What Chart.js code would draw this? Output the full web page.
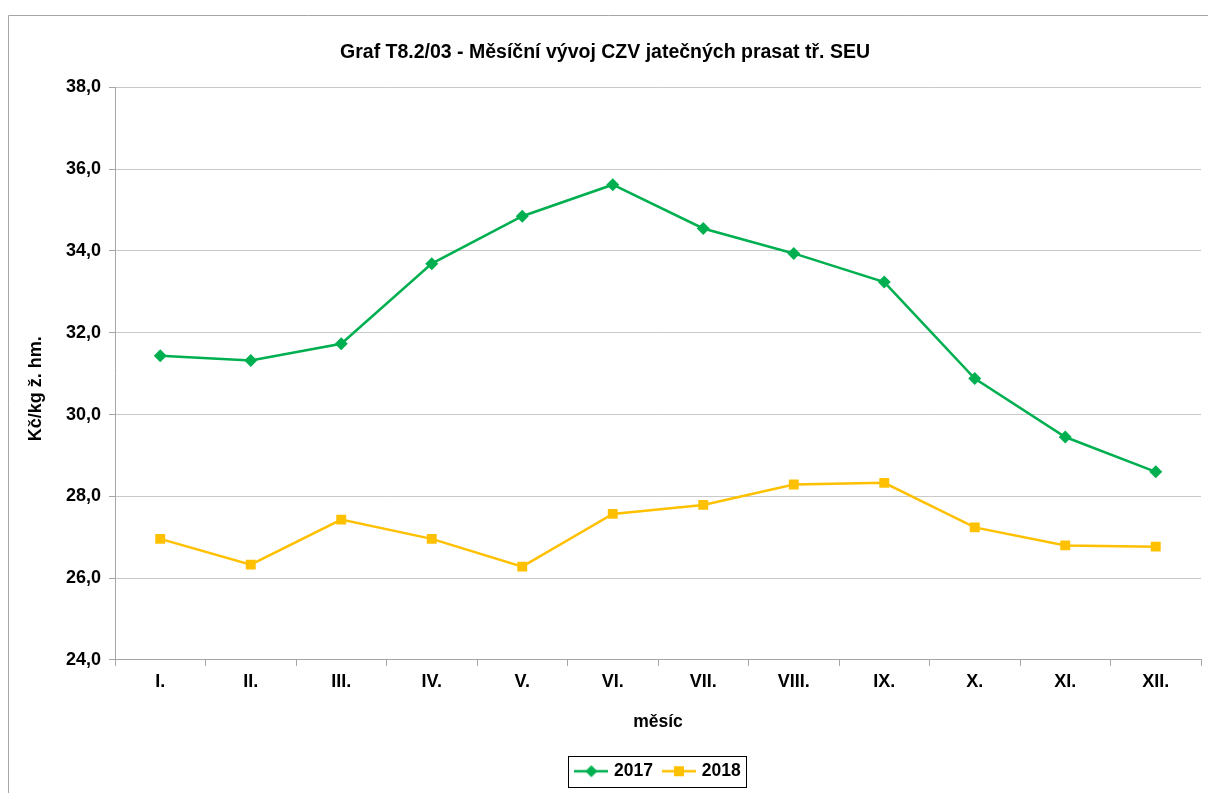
<!DOCTYPE html>
<html>
<head>
<meta charset="utf-8">
<title>Graf T8.2/03</title>
<script src="https://cdn.jsdelivr.net/npm/chart.js@4.4.1/dist/chart.umd.min.js"></script>
<style>
  html, body { margin: 0; padding: 0; background: #fff; }
  #wrap { width: 1208px; height: 793px; }
</style>
</head>
<body>
<div id="wrap"><canvas id="priceChart" width="1208" height="793"></canvas></div>
<script>
// months (category axis)
const months = ["I.", "II.", "III.", "IV.", "V.", "VI.", "VII.", "VIII.", "IX.", "X.", "XI.", "XII."];

// Kč/kg živé hmotnosti
const prices2017 = [31.44, 31.32, 31.73, 33.69, 34.85, 35.62, 34.55, 33.94, 33.24, 30.88, 29.45, 28.60];
const prices2018 = [26.96, 26.33, 27.43, 26.96, 26.28, 27.57, 27.79, 28.29, 28.33, 27.24, 26.80, 26.77];

const yTicks = [24, 26, 28, 30, 32, 34, 36, 38];

const GREEN = "#00B050";
const GOLD = "#FFC000";
const FONT = "'Liberation Sans', Arial, sans-serif";

Chart.defaults.font.family = FONT;
Chart.defaults.color = "#000";

// small line+marker icon for legend, like the Excel legend key
function legendIcon(color, shape) {
    const c = document.createElement('canvas');
    c.width = 34;
    c.height = 14;
    const g = c.getContext('2d');
    g.strokeStyle = color;
    g.lineWidth = 2.5;
    g.beginPath();
    g.moveTo(0, 7);
    g.lineTo(34, 7);
    g.stroke();
    g.fillStyle = color;
    if (shape === 'diamond') {
        g.beginPath();
        g.moveTo(17, 1);
        g.lineTo(23, 7);
        g.lineTo(17, 13);
        g.lineTo(11, 7);
        g.closePath();
        g.fill();
    } else {
        g.fillRect(12, 2, 10, 10);
    }
    return c;
}

// outer frame, legend centred under the plot, box round the legend
const framePlugin = {
    id: 'frame',
    afterLayout(chart) {
        const lg = chart.legend;
        if (!lg) return;
        const d = (chart.chartArea.left + chart.chartArea.right) / 2 + 1 - (lg.left + lg.right) / 2;
        lg.left += d;
        lg.right += d;
    },
    beforeDraw(chart) {
        const ctx = chart.ctx;
        ctx.save();
        ctx.strokeStyle = "#a6a6a6";
        ctx.lineWidth = 1;
        ctx.beginPath();
        ctx.moveTo(8.5, 800);
        ctx.lineTo(8.5, 15.5);
        ctx.lineTo(1210, 15.5);
        ctx.stroke();
        ctx.restore();
    },
    afterDraw(chart) {
        const boxes = chart.legend && chart.legend.legendHitBoxes;
        if (!boxes || !boxes.length) return;
        let l = Infinity, r = -Infinity, t = Infinity, b = -Infinity;
        boxes.forEach(h => {
            l = Math.min(l, h.left);
            r = Math.max(r, h.left + h.width);
            t = Math.min(t, h.top);
            b = Math.max(b, h.top + h.height);
        });
        const ctx = chart.ctx;
        ctx.save();
        ctx.strokeStyle = "#000";
        ctx.lineWidth = 1;
        ctx.strokeRect(Math.round(l - 9) + 0.5, Math.round(t - 7) + 0.5, Math.round(r - l + 15), Math.round(b - t + 13));
        ctx.restore();
    }
};

new Chart(document.getElementById('priceChart'), {
    type: 'line',
    data: {
        labels: months,
        datasets: [
            {
                label: '2017',
                data: prices2017,
                borderColor: GREEN,
                backgroundColor: GREEN,
                borderWidth: 2.5,
                pointStyle: 'rectRot',
                pointRadius: 6.5,
                pointHoverRadius: 6.5,
                pointBorderWidth: 0,
                tension: 0
            },
            {
                label: '2018',
                data: prices2018,
                borderColor: GOLD,
                backgroundColor: GOLD,
                borderWidth: 2.5,
                pointStyle: 'rect',
                pointRadius: 7,
                pointHoverRadius: 7,
                pointBorderWidth: 0,
                tension: 0
            }
        ]
    },
    options: {
        responsive: false,
        animation: false,
        layout: { padding: { left: 8, right: 6, top: 0, bottom: 3 } },
        plugins: {
            title: {
                display: true,
                text: 'Graf T8.2/03 - Měsíční vývoj CZV jatečných prasat tř. SEU',
                font: { size: 19.5, weight: 'bold' },
                color: '#000',
                padding: { top: 41, bottom: 23 }
            },
            legend: {
                position: 'bottom',
                labels: {
                    font: { size: 17.5, weight: 'bold' },
                    color: '#000',
                    usePointStyle: true,
                    pointStyleWidth: 28,
                    padding: 12,
                    generateLabels(chart) {
                        return chart.data.datasets.map((ds, i) => ({
                            text: ds.label,
                            datasetIndex: i,
                            fillStyle: ds.borderColor,
                            strokeStyle: ds.borderColor,
                            lineWidth: 0,
                            hidden: false,
                            pointStyle: legendIcon(ds.borderColor, i === 0 ? 'diamond' : 'square')
                        }));
                    }
                }
            },
            tooltip: { enabled: false }
        },
        scales: {
            x: {
                offset: true,
                grid: {
                    offset: true,
                    drawOnChartArea: false,
                    drawTicks: true,
                    tickLength: 6,
                    color: '#a6a6a6'
                },
                border: { color: '#a6a6a6', width: 1 },
                ticks: {
                    font: { size: 18, weight: 'bold' },
                    color: '#000',
                    padding: 5,
                    maxRotation: 0
                },
                title: {
                    display: true,
                    text: 'měsíc',
                    font: { size: 17.5, weight: 'bold' },
                    color: '#000',
                    padding: { top: 14, bottom: 18 }
                }
            },
            y: {
                min: 24,
                max: 38,
                afterBuildTicks(scale) {
                    scale.ticks = yTicks.map(v => ({ value: v }));
                },
                afterFit(scale) {
                    scale.width = 107;
                },
                grid: {
                    color: '#c8c8c8',
                    tickColor: '#a6a6a6',
                    tickLength: 6,
                    drawTicks: true
                },
                border: { color: '#a6a6a6', width: 1 },
                ticks: {
                    font: { size: 18, weight: 'bold' },
                    color: '#000',
                    padding: 8,
                    callback: v => v.toFixed(1).replace('.', ',')
                },
                title: {
                    display: true,
                    text: 'Kč/kg ž. hm.\u00a0\u00a0\u00a0\u00a0\u00a0\u00a0',
                    font: { size: 18, weight: 'bold' },
                    color: '#000',
                    padding: { top: 17, bottom: 0 }
                }
            }
        }
    },
    plugins: [framePlugin]
});
</script>
</body>
</html>
